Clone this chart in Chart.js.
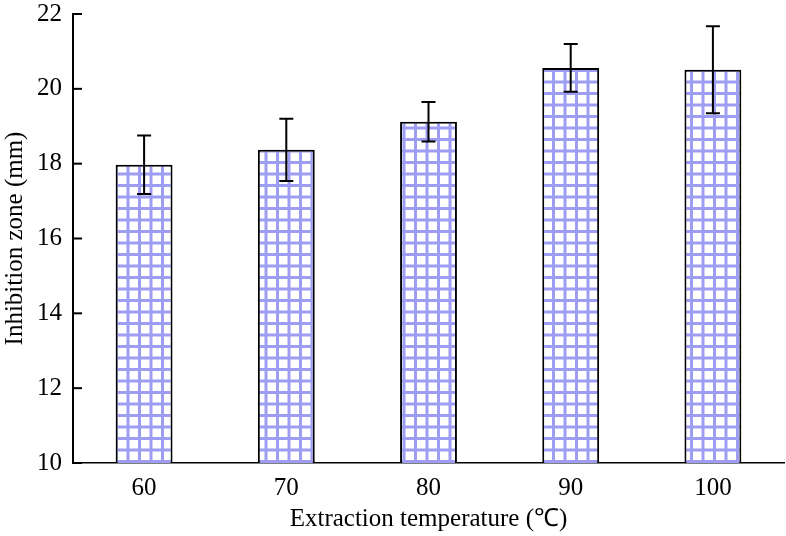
<!DOCTYPE html>
<html>
<head>
<meta charset="utf-8">
<script src="https://cdn.jsdelivr.net/npm/chart.js@4/dist/chart.umd.min.js"></script>
<style>
html,body{margin:0;padding:0;background:#fff;}
#wrap{width:786px;height:536px;}
</style>
</head>
<body>
<div id="wrap"><canvas id="c" width="786" height="536"></canvas></div>
<script>
const categories = ["60", "70", "80", "90", "100"];
const inhibitionZone = [17.97, 18.37, 19.12, 20.56, 20.51];
const errorValues = [0.78, 0.83, 0.53, 0.64, 1.16];
const yTicks = [10, 12, 14, 16, 18, 20, 22];

const FONT = "'Liberation Serif', 'Times New Roman', serif";

function makePattern() {
  const t = document.createElement('canvas');
  t.width = 23; t.height = 23;
  const g = t.getContext('2d');
  g.fillStyle = '#ffffff';
  g.fillRect(0, 0, 23, 23);
  g.fillStyle = '#9d9df3';
  g.fillRect(0, 0, 3, 23);
  g.fillRect(11.5, 0, 3, 23);
  g.fillRect(0, 0, 23, 3);
  g.fillRect(0, 11.5, 23, 3);
  return document.getElementById('c').getContext('2d').createPattern(t, 'repeat');
}

const errorBarPlugin = {
  id: 'errorBars',
  afterDatasetsDraw(chart) {
    const ctx = chart.ctx;
    const meta = chart.getDatasetMeta(0);
    const ys = chart.scales.y;
    ctx.save();
    ctx.strokeStyle = '#000';
    ctx.lineWidth = 2;
    meta.data.forEach((el, i) => {
      const v = inhibitionZone[i], e = errorValues[i];
      const yHi = ys.getPixelForValue(v + e);
      const yLo = ys.getPixelForValue(v - e);
      const x = el.x;
      ctx.beginPath();
      ctx.moveTo(x, yHi); ctx.lineTo(x, yLo);
      ctx.moveTo(x - 7, yHi); ctx.lineTo(x + 7, yHi);
      ctx.moveTo(x - 7, yLo); ctx.lineTo(x + 7, yLo);
      ctx.stroke();
    });
    ctx.restore();
  }
};

const inwardTicksPlugin = {
  id: 'inwardTicks',
  afterDraw(chart) {
    const ctx = chart.ctx;
    const ys = chart.scales.y;
    const left = chart.chartArea.left;
    ctx.save();
    ctx.strokeStyle = '#000';
    ctx.lineWidth = 2;
    ys.ticks.forEach((t, i) => {
      const y = ys.getPixelForTick(i);
      ctx.beginPath();
      ctx.moveTo(left, y); ctx.lineTo(left + 9, y);
      ctx.stroke();
    });
    ctx.restore();
  }
};

new Chart(document.getElementById('c'), {
  type: 'bar',
  data: {
    labels: categories,
    datasets: [{
      data: inhibitionZone,
      backgroundColor: makePattern(),
      borderColor: '#000',
      borderWidth: 2,
      borderSkipped: false,
      barPercentage: 0.4,
      categoryPercentage: 1.0
    }]
  },
  options: {
    responsive: false,
    animation: false,
    layout: { padding: { top: 14, right: 2, left: 0, bottom: 0 } },
    plugins: { legend: { display: false }, tooltip: { enabled: false } },
    scales: {
      x: {
        afterFit(scale) { scale.height = 73; },
        grid: { display: false, drawTicks: false },
        border: { color: '#000', width: 1.5 },
        ticks: { color: '#000', font: { family: FONT, size: 25 }, padding: 10 },
        title: { display: true, text: 'Extraction temperature (\u2103)', color: '#000', font: { family: FONT, size: 25 }, padding: { top: 0, bottom: 2 } }
      },
      y: {
        min: 10, max: 22,
        afterFit(scale) { scale.width = 73; scale.paddingTop = 0; scale.paddingBottom = 0; },
        afterBuildTicks(scale) { scale.ticks = yTicks.map(v => ({ value: v })); },
        grid: { drawOnChartArea: false, drawTicks: false },
        border: { color: '#000', width: 2 },
        ticks: { color: '#000', font: { family: FONT, size: 25 }, padding: 11 },
        title: { display: true, text: 'Inhibition zone (mm)', color: '#000', font: { family: FONT, size: 25 }, padding: { top: 0, bottom: 0 } }
      }
    }
  },
  plugins: [errorBarPlugin, inwardTicksPlugin]
});
</script>
</body>
</html>
